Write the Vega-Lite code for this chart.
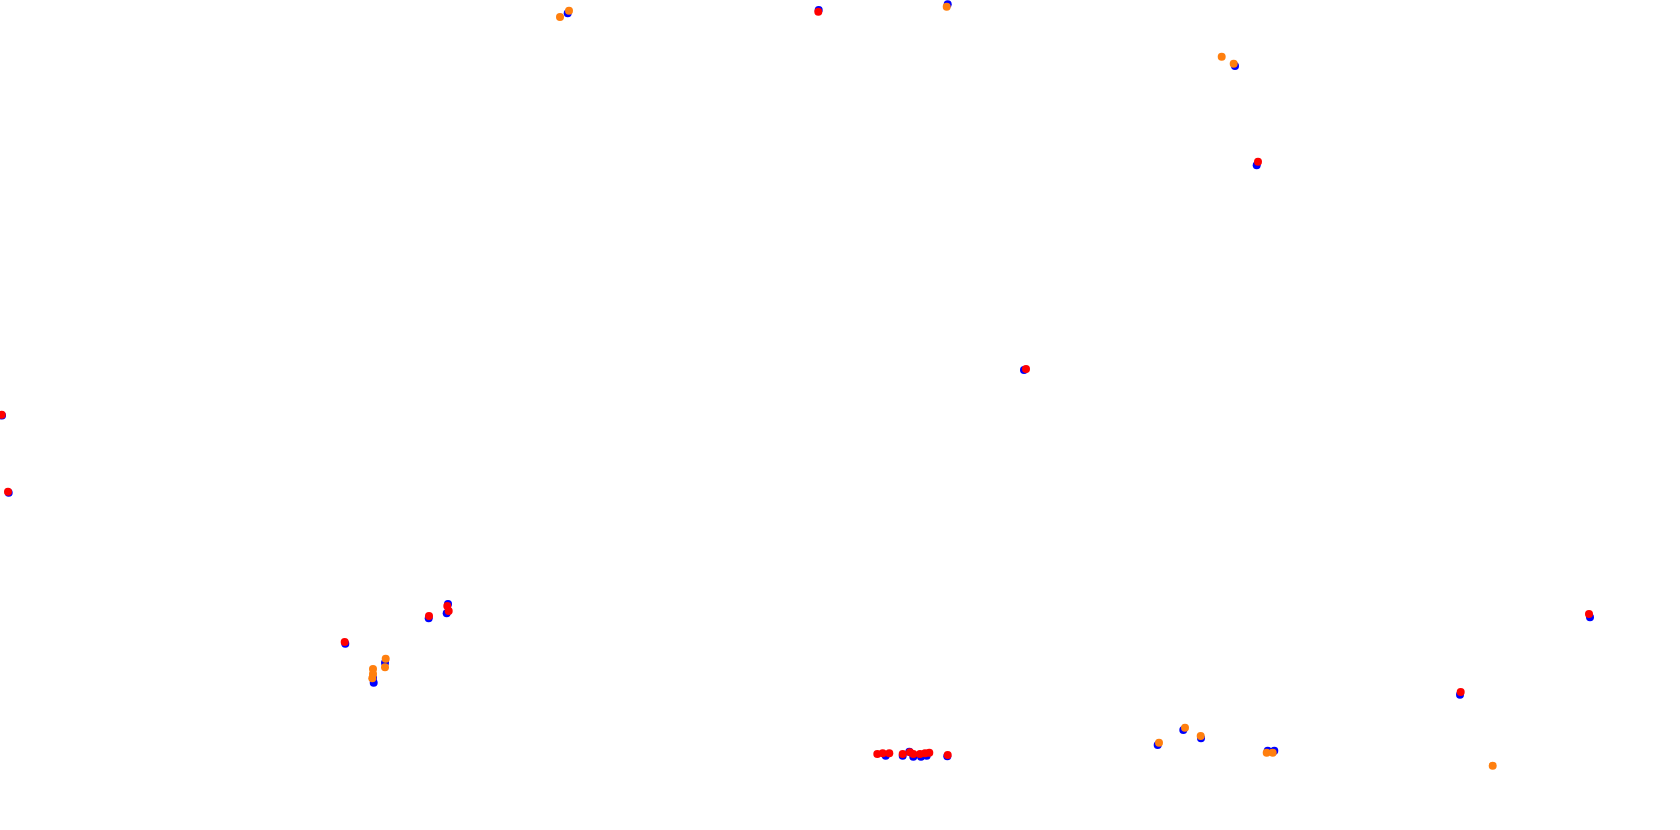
{
  "$schema": "https://vega.github.io/schema/vega-lite/v6.json",
  "width": 1680,
  "height": 830,
  "autosize": {"type": "none"},
  "padding": 0,
  "background": "white",
  "config": {"view": {"stroke": null}},
  "data": {"values": [
    {"x": 567.7, "y": 13.3, "s": "blue"},
    {"x": 818.7, "y": 10, "s": "blue"},
    {"x": 947.7, "y": 4.3, "s": "blue"},
    {"x": 1235, "y": 66, "s": "blue"},
    {"x": 1256.7, "y": 165.3, "s": "blue"},
    {"x": 2, "y": 415.5, "s": "blue"},
    {"x": 8.7, "y": 492.7, "s": "blue"},
    {"x": 345.3, "y": 643.7, "s": "blue"},
    {"x": 428.7, "y": 618.3, "s": "blue"},
    {"x": 448, "y": 604, "s": "blue"},
    {"x": 446.7, "y": 613.3, "s": "blue"},
    {"x": 385, "y": 662.7, "s": "blue"},
    {"x": 373.7, "y": 682.7, "s": "blue"},
    {"x": 373, "y": 678, "s": "blue"},
    {"x": 885.7, "y": 755.7, "s": "blue"},
    {"x": 902.7, "y": 755.7, "s": "blue"},
    {"x": 909.3, "y": 751.7, "s": "blue"},
    {"x": 913.3, "y": 756.7, "s": "blue"},
    {"x": 921, "y": 756.7, "s": "blue"},
    {"x": 926.7, "y": 755.7, "s": "blue"},
    {"x": 947.3, "y": 756.3, "s": "blue"},
    {"x": 1157.7, "y": 745, "s": "blue"},
    {"x": 1183.3, "y": 730, "s": "blue"},
    {"x": 1201, "y": 738.3, "s": "blue"},
    {"x": 1267.7, "y": 750.7, "s": "blue"},
    {"x": 1274.3, "y": 750.7, "s": "blue"},
    {"x": 1590, "y": 617.3, "s": "blue"},
    {"x": 1460, "y": 694.7, "s": "blue"},
    {"x": 1024, "y": 370, "s": "blue"},
    {"x": 560, "y": 17, "s": "orange"},
    {"x": 569, "y": 10.7, "s": "orange"},
    {"x": 946.7, "y": 6.7, "s": "orange"},
    {"x": 1221.7, "y": 56.7, "s": "orange"},
    {"x": 1233.7, "y": 63.7, "s": "orange"},
    {"x": 385.7, "y": 658.7, "s": "orange"},
    {"x": 385, "y": 667.3, "s": "orange"},
    {"x": 373, "y": 669, "s": "orange"},
    {"x": 373, "y": 674, "s": "orange"},
    {"x": 372.3, "y": 678.3, "s": "orange"},
    {"x": 1159, "y": 742.7, "s": "orange"},
    {"x": 1185, "y": 727.7, "s": "orange"},
    {"x": 1200.7, "y": 736, "s": "orange"},
    {"x": 1266.7, "y": 752.7, "s": "orange"},
    {"x": 1272.7, "y": 752.7, "s": "orange"},
    {"x": 1492.7, "y": 765.7, "s": "orange"},
    {"x": 818.3, "y": 11.7, "s": "red"},
    {"x": 1258, "y": 161.7, "s": "red"},
    {"x": 1.7, "y": 414.7, "s": "red"},
    {"x": 8, "y": 491.7, "s": "red"},
    {"x": 344.7, "y": 642, "s": "red"},
    {"x": 429, "y": 616, "s": "red"},
    {"x": 447.3, "y": 606, "s": "red"},
    {"x": 448.7, "y": 611, "s": "red"},
    {"x": 877.3, "y": 754, "s": "red"},
    {"x": 882.7, "y": 753.3, "s": "red"},
    {"x": 889.3, "y": 753.3, "s": "red"},
    {"x": 902.7, "y": 754, "s": "red"},
    {"x": 910, "y": 752.3, "s": "red"},
    {"x": 913.3, "y": 754, "s": "red"},
    {"x": 920, "y": 754, "s": "red"},
    {"x": 925, "y": 753.3, "s": "red"},
    {"x": 929.3, "y": 752.7, "s": "red"},
    {"x": 947.7, "y": 755, "s": "red"},
    {"x": 1589, "y": 614, "s": "red"},
    {"x": 1460.7, "y": 692, "s": "red"},
    {"x": 1026, "y": 369, "s": "red"}
  ]},
  "mark": {"type": "circle", "size": 64, "opacity": 1},
  "encoding": {
    "x": {"field": "x", "type": "quantitative", "axis": null, "scale": {"domain": [0, 1680], "nice": false, "zero": false}},
    "y": {"field": "y", "type": "quantitative", "axis": null, "scale": {"domain": [0, 830], "nice": false, "zero": false, "reverse": true}},
    "color": {"field": "s", "type": "nominal", "legend": null, "scale": {"domain": ["blue", "orange", "red"], "range": ["#0000ff", "#ff7f0e", "#ff0000"]}}
  }
}
